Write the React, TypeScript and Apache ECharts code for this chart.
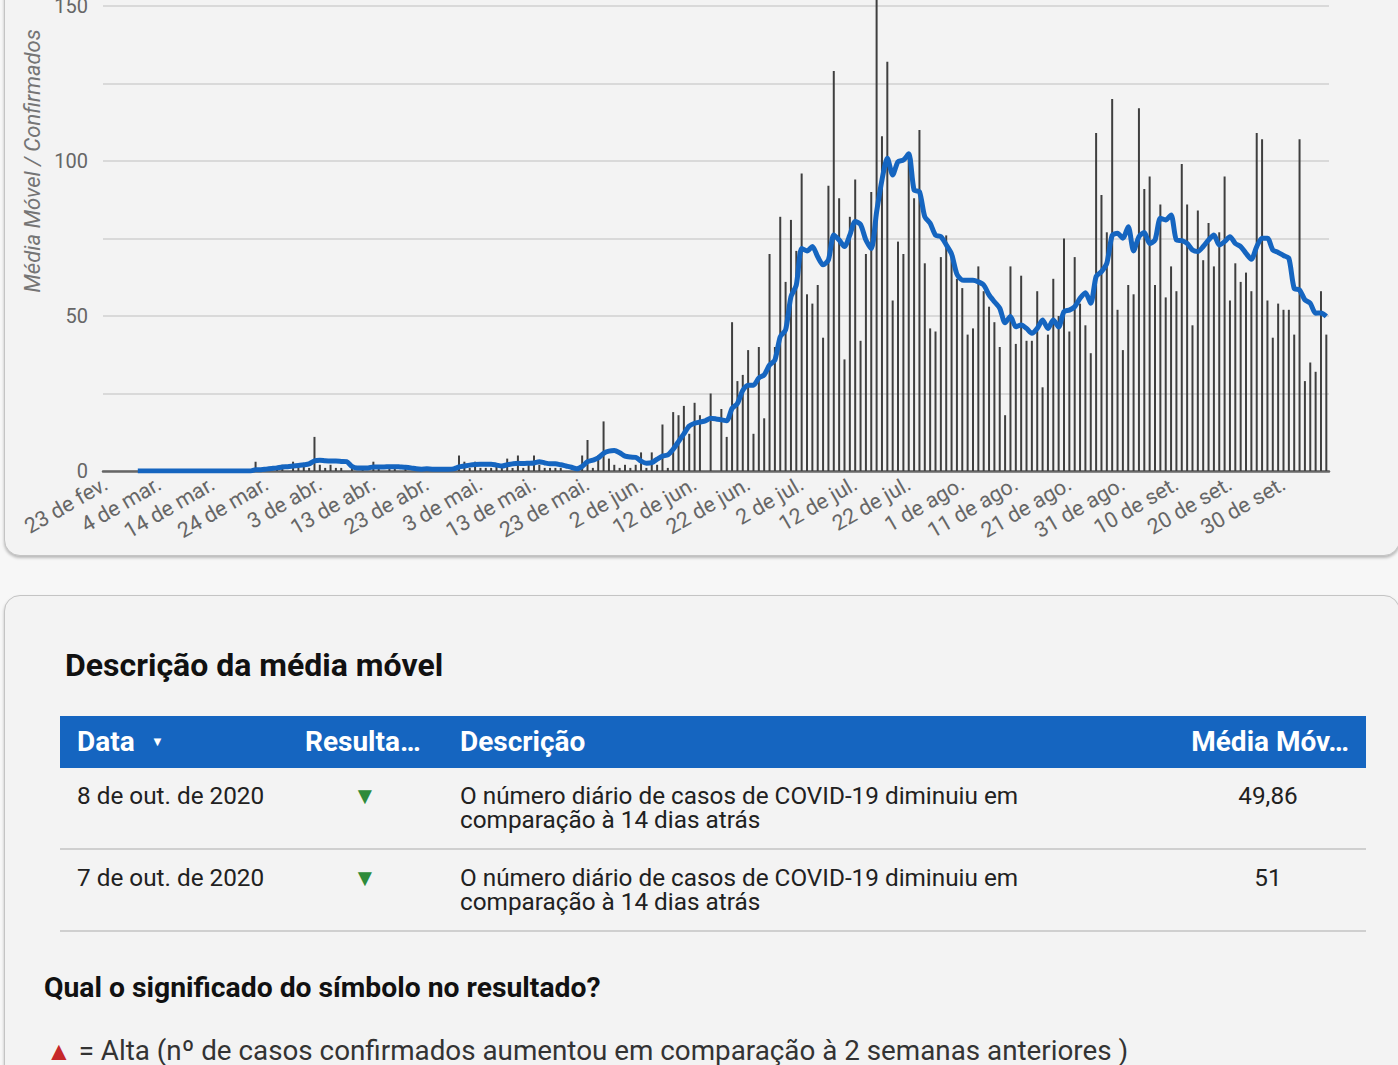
import React, { useEffect, useRef } from "react";
import * as echarts from "echarts";

const MONTHS = ["jan.", "fev.", "mar.", "abr.", "mai.", "jun.", "jul.", "ago.", "set.", "out.", "nov.", "dez."];
const START_DAY = 23; // 23 de fev. de 2020
const START_MONTH = 1;
const N_DAYS = 229; // 23 fev -> 8 out

const categories: string[] = Array.from({ length: N_DAYS }, (_, i) => {
  const d = new Date(2020, START_MONTH, START_DAY + i);
  return `${d.getDate()} de ${MONTHS[d.getMonth()]}`;
});

const yTicks = [0, 50, 100, 150];

// Casos confirmados por dia
const confirmados = [
  0, 0, 0, 0, 0, 0, 0, 0, 0, 0,
  0, 0, 0, 0, 0, 0, 0, 0, 0, 0,
  0, 0, 0, 0, 0, 0, 0, 0, 3, 0,
  1, 0, 1, 2, 0, 3, 1, 2, 1, 11,
  2, 1, 2, 1, 1, 0, 1, 0, 1, 0,
  3, 1, 0, 1, 1, 0, 1, 0, 0, 1,
  0, 0, 1, 0, 0, 1, 5, 3, 1, 3,
  1, 1, 1, 2, 1, 4, 1, 5, 1, 2,
  5, 2, 1, 1, 1, 1, 0, 0, 1, 5,
  10, 1, 5, 16, 4, 2, 1, 2, 1, 2,
  6, 1, 6, 2, 15, 1, 19, 18, 21, 12,
  22, 18, 0, 25, 0, 20, 11, 48, 29, 31,
  39, 12, 40, 17, 70, 40, 82, 61, 81, 71,
  96, 57, 54, 60, 43, 92, 129, 88, 36, 82,
  94, 42, 70, 90, 158, 108, 132, 55, 74, 70,
  102, 88, 110, 67, 46, 45, 69, 76, 71, 62,
  59, 44, 46, 66, 58, 53, 48, 40, 18, 66,
  41, 63, 42, 42, 58, 27, 44, 62, 50, 75,
  45, 69, 54, 47, 38, 109, 89, 77, 120, 52,
  39, 60, 57, 117, 91, 95, 60, 86, 56, 66,
  58, 99, 86, 47, 84, 68, 80, 66, 77, 95,
  55, 67, 61, 64, 58, 109, 107, 55, 43, 54,
  52, 52, 44, 107, 29, 35, 32, 58, 44,
];

// Média móvel (7 dias)
const mediaMovel = [
  null, null, null, null, null, null, 0, 0, 0, 0,
  0, 0, 0, 0, 0, 0, 0, 0, 0, 0,
  0, 0, 0, 0, 0, 0, 0, 0, 0.4, 0.4,
  0.6, 0.8, 1.0, 1.3, 1.4, 1.6, 1.8, 2.0, 2.3, 3.3,
  3.5, 3.3, 3.2, 3.2, 3.1, 3.0, 1.5, 1.0, 1.0, 1.0,
  1.3, 1.3, 1.3, 1.4, 1.4, 1.3, 1.2, 1.0, 0.7, 0.6,
  0.7, 0.6, 0.6, 0.6, 0.6, 0.7, 1.3, 1.6, 1.9, 2.1,
  2.2, 2.2, 2.2, 1.9, 1.6, 2.0, 2.3, 2.5, 2.4, 2.5,
  2.6, 3.0, 2.6, 2.3, 2.3, 2.0, 1.6, 1.2, 0.7, 1.5,
  3.0, 3.5, 4.2, 5.7, 6.4, 6.6, 5.9, 4.8, 4.5, 4.4,
  3.2, 2.5, 2.7, 3.8, 4.8, 5.2, 7.0, 9.5, 12.0, 14.5,
  15.4, 15.8, 16.2, 17.0, 16.8, 16.5, 16.2, 20.2, 21.8, 26.0,
  27.7, 27.7, 30.0, 31.0, 34.2, 35.8, 43.3, 45.5, 56.2, 60.0,
  71.8, 71.0, 72.4, 69.1, 66.5, 68.1, 76.1, 74.5, 72.4, 76.1,
  80.5, 79.5, 74.5, 71.8, 83.6, 93.9, 100.9, 95.5, 99.8, 100.3,
  102.3, 90.6, 90.1, 82.0, 79.9, 76.1, 75.6, 73.0, 70.0, 63.5,
  61.6, 61.5, 61.5, 61.0, 60.0, 56.8, 54.6, 52.5, 47.8, 49.8,
  46.5, 47.1, 46.0, 44.4, 46.0, 48.7, 46.0, 48.7, 46.5, 51.4,
  51.9, 53.0, 55.7, 57.5, 54.1, 62.7, 64.3, 67.0, 76.0, 76.7,
  75.1, 78.8, 71.0, 75.6, 76.9, 73.4, 74.5, 81.5, 81.0, 82.6,
  74.5, 74.3, 73.4, 71.3, 70.8, 72.4, 74.5, 76.1, 72.9, 74.0,
  75.6, 73.4, 72.4, 70.2, 68.3, 72.4, 75.1, 75.1, 71.3, 70.5,
  69.5, 68.6, 58.9, 58.4, 55.2, 54.1, 50.9, 51, 49.86,
];

const tableRows = [
  { data: "8 de out. de 2020", descricao: ["O número diário de casos de COVID-19 diminuiu em", "comparação à 14 dias atrás"], media: "49,86" },
  { data: "7 de out. de 2020", descricao: ["O número diário de casos de COVID-19 diminuiu em", "comparação à 14 dias atrás"], media: "51" },
];

const FONT = "Roboto, 'Noto Sans', sans-serif";

function Chart() {
  const ref = useRef<HTMLDivElement>(null);
  useEffect(() => {
    if (!ref.current) return;
    const chart = echarts.init(ref.current, undefined, { renderer: "svg" });
    chart.setOption({
      animation: false,
      textStyle: { fontFamily: FONT },
      grid: { left: 103, right: 69, top: 11, bottom: 89, containLabel: false },
      xAxis: {
        type: "category",
        data: categories,
        boundaryGap: true,
        axisTick: { show: false },
        axisLine: { show: true, lineStyle: { color: "#666666", width: 2.5 } },
        axisLabel: {
          interval: 9,
          rotate: 30,
          color: "#666666",
          fontSize: 21.5,
          fontFamily: FONT,
          margin: 11,
        },
        splitLine: { show: false },
      },
      yAxis: {
        type: "value",
        min: 0,
        max: 200,
        interval: 25,
        name: "Média Móvel / Confirmados",
        nameLocation: "middle",
        nameGap: 60,
        nameTextStyle: { color: "#757575", fontSize: 22, fontStyle: "italic", fontFamily: FONT },
        axisLine: { show: false },
        axisTick: { show: false },
        axisLabel: {
          color: "#666666",
          fontSize: 20,
          fontFamily: FONT,
          margin: 15,
          formatter: (v: number) => (yTicks.includes(v) ? String(v) : ""),
        },
        splitLine: { lineStyle: { color: "#d9d9d9", width: 2 } },
      },
      series: [
        {
          name: "Confirmados",
          type: "bar",
          data: confirmados,
          barWidth: 2,
          itemStyle: { color: "#3f3f3f" },
          silent: true,
          z: 2,
        },
        {
          name: "Média Móvel",
          type: "line",
          data: mediaMovel,
          showSymbol: false,
          smooth: 0.25,
          connectNulls: false,
          lineStyle: { color: "#1565c0", width: 5 },
          silent: true,
          z: 3,
        },
      ],
    });
    return () => chart.dispose();
  }, []);
  return <div ref={ref} style={{ position: "absolute", left: 0, top: -160, width: 1398, height: 720 }} />;
}

const cardStyle: React.CSSProperties = {
  position: "absolute",
  left: 4,
  width: 1396,
  background: "#f3f3f3",
  border: "1px solid #c4c4c4",
  borderRadius: 16,
  boxShadow: "0 2px 3px rgba(0,0,0,0.25)",
  boxSizing: "border-box",
};

const abs = (s: React.CSSProperties): React.CSSProperties => ({ position: "absolute", whiteSpace: "nowrap", ...s });

const headerText: React.CSSProperties = { top: 725, fontSize: 28, lineHeight: "34px", fontWeight: 700, color: "#fff" };
const cellText: React.CSSProperties = { fontSize: 24.3, lineHeight: "24px", color: "#212121" };

export default function App() {
  return (
    <div
      style={{
        position: "fixed",
        left: 0,
        top: 0,
        width: 1398,
        height: 1065,
        overflow: "hidden",
        background: "#f7f7f7",
        fontFamily: FONT,
      }}
    >
      <div style={{ ...cardStyle, top: -300, height: 856 }} />
      <Chart />
      <div style={{ ...cardStyle, top: 595, height: 700 }} />

      <div style={abs({ left: 65, top: 646, fontSize: 32, lineHeight: "38px", fontWeight: 700, color: "#111" })}>
        Descrição da média móvel
      </div>

      {/* Cabeçalho da tabela */}
      <div style={abs({ left: 60, top: 716, width: 1306, height: 52, background: "#1565c0" })} />
      <div style={abs({ left: 77, ...headerText })}>Data</div>
      <div style={abs({ left: 151, top: 734, fontSize: 13, lineHeight: "16px", color: "#fff" })}>▼</div>
      <div style={abs({ left: 305, ...headerText })}>Resulta…</div>
      <div style={abs({ left: 460, ...headerText })}>Descrição</div>
      <div style={abs({ right: 1398 - 1349, ...headerText })}>Média Móv…</div>

      {tableRows.map((r, k) => {
        const y = 784 + k * 82;
        return (
          <React.Fragment key={k}>
            <div style={abs({ left: 77, top: y, ...cellText })}>{r.data}</div>
            <div style={abs({ left: 353, top: y - 1, fontSize: 24, lineHeight: "26px", color: "#2e8b3a" })}>▼</div>
            <div style={abs({ left: 460, top: y, ...cellText })}>{r.descricao[0]}</div>
            <div style={abs({ left: 460, top: y + 24, ...cellText })}>{r.descricao[1]}</div>
            <div style={abs({ left: 1168, width: 200, top: y, ...cellText, textAlign: "center" })}>{r.media}</div>
            <div style={abs({ left: 60, top: y + 64, width: 1306, height: 2, background: "#cfcfcf" })} />
          </React.Fragment>
        );
      })}

      <div style={abs({ left: 44, top: 971, fontSize: 28.3, lineHeight: "34px", fontWeight: 700, color: "#111" })}>
        Qual o significado do símbolo no resultado?
      </div>
      <div style={abs({ left: 46, top: 1034, fontSize: 27.8, lineHeight: "34px", color: "#333" })}>
        <span style={{ color: "#c62828", fontSize: 26 }}>▲</span> = Alta (nº de casos confirmados aumentou em comparação à 2 semanas anteriores )
      </div>
    </div>
  );
}
